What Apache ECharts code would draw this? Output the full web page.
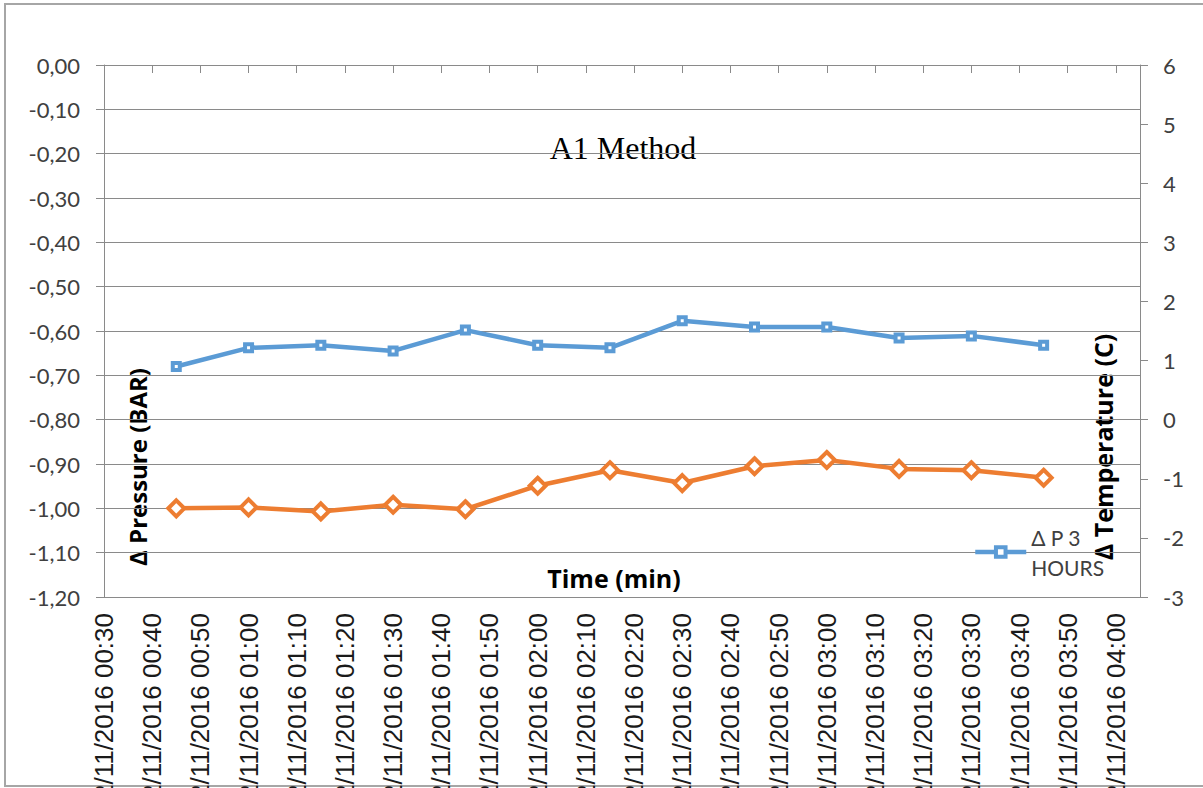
<!DOCTYPE html>
<html>
<head>
<meta charset="utf-8">
<title>A1 Method</title>
<script src="https://cdn.jsdelivr.net/npm/echarts@6/dist/echarts.min.js"></script>
<style>
  html, body { margin: 0; padding: 0; background: #ffffff; }
  #chart { width: 1203px; height: 788px; }
</style>
</head>
<body>
<div id="chart"></div>
<script>
// Sample times in minutes since midnight (every 15 min, 00:45 .. 03:45)
const sampleMinutes = [45, 60, 75, 90, 105, 120, 135, 150, 165, 180, 195, 210, 225];

// Δ P over the 3-hour run (bar)
const deltaP3Hours = [-0.68, -0.638, -0.632, -0.645, -0.598, -0.632, -0.638, -0.577, -0.591, -0.591, -0.616, -0.611, -0.632];

// Second pressure trace (bar)
const deltaPSecond = [-1.00, -0.998, -1.007, -0.992, -1.002, -0.949, -0.914, -0.943, -0.905, -0.891, -0.911, -0.914, -0.931];

// Date-axis ticks (minutes) and their labels
const tickMinutes = [30, 40, 50, 60, 70, 80, 90, 100, 110, 120, 130, 140, 150, 160, 170, 180, 190, 200, 210, 220, 230, 240];
const tickLabels = [
  '22/11/2016 00:30', '22/11/2016 00:40', '22/11/2016 00:50', '22/11/2016 01:00',
  '22/11/2016 01:10', '22/11/2016 01:20', '22/11/2016 01:30', '22/11/2016 01:40',
  '22/11/2016 01:50', '22/11/2016 02:00', '22/11/2016 02:10', '22/11/2016 02:20',
  '22/11/2016 02:30', '22/11/2016 02:40', '22/11/2016 02:50', '22/11/2016 03:00',
  '22/11/2016 03:10', '22/11/2016 03:20', '22/11/2016 03:30', '22/11/2016 03:40',
  '22/11/2016 03:50', '22/11/2016 04:00'
];

const seriesNames = ['Δ P 3 HOURS', 'Δ P'];

const blue = '#5B9BD5';
const orange = '#ED7D31';
const axisGray = '#8a8a8a';
const labelGray = '#404040';
const uiFont = 'Lato, "Open Sans", sans-serif';
const titleFont = '"Open Sans", Lato, sans-serif';

const chart = echarts.init(document.getElementById('chart'), null, { renderer: 'svg' });

chart.setOption({
  backgroundColor: '#ffffff',
  animation: false,
  grid: { left: 104, right: 63, top: 65, bottom: 191, containLabel: false, outerBoundsMode: 'none' },
  legend: {
    data: [{
      name: seriesNames[0],
      itemStyle: { color: '#ffffff', borderColor: blue, borderWidth: 4 },
      lineStyle: { color: blue, width: 4.5 }
    }],
    left: 973,
    top: 507,
    padding: 0,
    itemWidth: 51,
    itemHeight: 12,
    itemGap: 6,
    formatter: name => name.replace(' HOURS', '\nHOURS'),
    textStyle: {
      fontFamily: uiFont,
      fontSize: 21,
      color: labelGray,
      lineHeight: 30,
      padding: [30, 0, 0, 0]
    }
  },
  xAxis: {
    type: 'value',
    min: 30,
    max: 245,
    interval: 10,
    axisLine: { show: true, lineStyle: { color: axisGray, width: 1 } },
    axisTick: { show: true, length: 8, lineStyle: { color: axisGray }, customValues: tickMinutes },
    splitLine: { show: false },
    axisLabel: {
      customValues: tickMinutes,
      rotate: 90,
      margin: 16,
      fontFamily: '"Liberation Sans", Arial, sans-serif',
      fontSize: 26,
      color: '#1a1a1a',
      formatter: v => tickLabels[tickMinutes.indexOf(v)] || ''
    }
  },
  yAxis: [
    {
      type: 'value',
      min: -1.2,
      max: 0,
      interval: 0.1,
      axisLine: { show: true, lineStyle: { color: axisGray } },
      axisTick: { show: true, length: 8, lineStyle: { color: axisGray } },
      splitLine: { show: true, lineStyle: { color: axisGray, width: 1 } },
      axisLabel: {
        margin: 24,
        fontFamily: uiFont,
        fontSize: 22,
        color: labelGray,
        formatter: v => (Math.abs(v) < 1e-9 ? 0 : v).toFixed(2).replace('.', ',')
      }
    },
    {
      type: 'value',
      min: -3,
      max: 6,
      interval: 1,
      position: 'right',
      axisLine: { show: true, lineStyle: { color: axisGray } },
      axisTick: { show: true, length: 8, lineStyle: { color: axisGray } },
      splitLine: { show: false },
      axisLabel: {
        margin: 23,
        fontFamily: uiFont,
        fontSize: 22,
        color: labelGray
      }
    }
  ],
  series: [
    {
      name: seriesNames[0],
      type: 'line',
      yAxisIndex: 0,
      data: sampleMinutes.map((m, i) => [m, deltaP3Hours[i]]),
      lineStyle: { color: blue, width: 4.5 },
      itemStyle: { color: '#ffffff', borderColor: blue, borderWidth: 4 },
      symbol: 'rect',
      symbolSize: 7,
      z: 3
    },
    {
      name: seriesNames[1],
      type: 'line',
      yAxisIndex: 0,
      data: sampleMinutes.map((m, i) => [m, deltaPSecond[i]]),
      lineStyle: { color: orange, width: 4.5 },
      itemStyle: { color: '#ffffff', borderColor: orange, borderWidth: 4 },
      symbol: 'diamond',
      symbolSize: 16,
      z: 2
    }
  ],
  graphic: [
    {
      type: 'rect',
      silent: true,
      shape: { x: 5, y: 4, width: 1300, height: 782 },
      style: { fill: 'none', stroke: '#a6a6a6', lineWidth: 2 },
      z: -10
    },
    {
      type: 'text',
      x: 623,
      y: 148,
      style: {
        text: 'A1 Method',
        font: '32px "Liberation Serif", "Times New Roman", serif',
        fill: '#000000',
        align: 'center',
        verticalAlign: 'middle'
      }
    },
    {
      type: 'text',
      x: 137,
      y: 467,
      rotation: Math.PI / 2,
      style: {
        text: 'Δ Pressure (BAR)',
        font: 'bold 24px ' + titleFont,
        fill: '#000000',
        align: 'center',
        verticalAlign: 'middle'
      }
    },
    {
      type: 'text',
      x: 1103,
      y: 447,
      rotation: Math.PI / 2,
      style: {
        text: 'Δ Temperature (C)',
        font: 'bold 25px ' + titleFont,
        fill: '#000000',
        align: 'center',
        verticalAlign: 'middle'
      }
    },
    {
      type: 'text',
      x: 614,
      y: 578,
      style: {
        text: 'Time (min)',
        font: 'bold 25px ' + titleFont,
        fill: '#000000',
        align: 'center',
        verticalAlign: 'middle'
      }
    }
  ]
});
</script>
</body>
</html>
